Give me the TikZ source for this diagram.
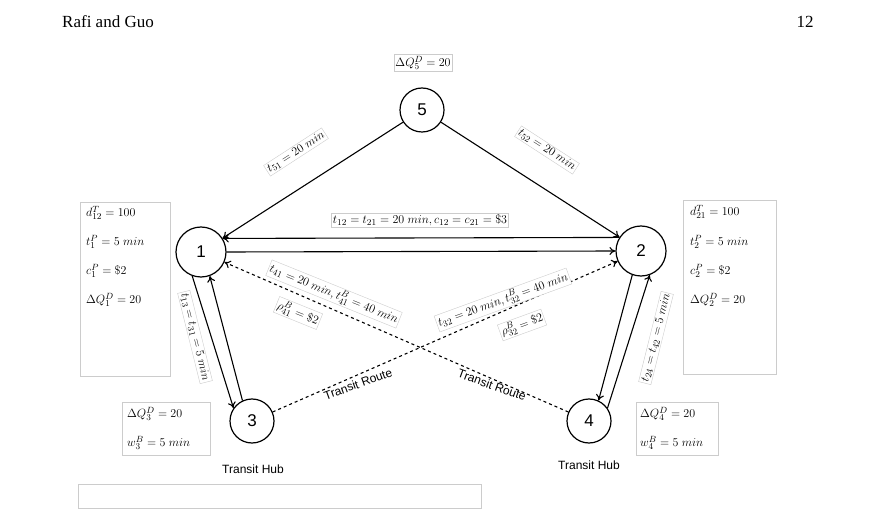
\documentclass[tikz,border=0pt]{standalone}
\usepackage{fontspec}
\usepackage{amsmath}
\setmainfont{Liberation Serif}
\setsansfont{Liberation Sans}
\usetikzlibrary{arrows.meta}
\begin{document}
\begin{tikzpicture}[x=1pt,y=-1pt,
  nd/.style={circle,draw,line width=1.2pt,minimum size=44pt,inner sep=0pt,font=\sffamily\fontsize{17}{20}\selectfont},
  ar/.style={-{To[length=6pt,width=8pt]},line width=1.1pt},
  da/.style={ar,dashed},
  lb/.style={draw=gray!40,fill=white,inner sep=1.5pt,font=\fontsize{13}{15}\selectfont},
  bx/.style={draw=gray!40},
  mt/.style={anchor=west,inner sep=0pt,font=\fontsize{13}{15}\selectfont},
  tx/.style={font=\sffamily\fontsize{12}{14}\selectfont}]
\useasboundingbox (0,0) rectangle (881,521);
\node[font=\fontsize{17}{20}\selectfont] (h1) at (108,22) {Rafi and Guo};
\node[font=\fontsize{17}{20}\selectfont] (h2) at (805,22) {12};
\node[nd] (n5) at (422,110) {5};
\node[nd,minimum size=50pt] (n1) at (201,252) {1};
\node[nd,minimum size=50pt] (n2) at (641,251) {2};
\node[nd] (n3) at (252,421) {3};
\node[nd] (n4) at (589,421) {4};
\draw[ar] (n5) -- (n1);
\draw[ar] (n5) -- (n2);
\draw[ar] (n2.148) -- (n1.32);
\draw[ar] (n1.0) -- (n2.180);
\draw[ar] (n1.250) -- (n3.145);
\draw[ar] (n3.115) -- (n1.290);
\draw[ar] (n2.250) -- (n4.65);
\draw[ar] (n4.35) -- (n2.290);
\draw[da] (n4) -- (n1);
\draw[da] (n3) -- (n2);
\node[lb,rotate=33] (l51) at (296,152) {$t_{51}=20\ min$};
\node[lb,rotate=-33] (l52) at (547,150) {$t_{52}=20\ min$};
\node[lb] (l12) at (420,220) {$t_{12}=t_{21}=20\ min, c_{12}=c_{21}=\$3$};
\node[lb,rotate=-76] (l13) at (195,337) {$t_{13}=t_{31}=5\ min$};
\node[lb,rotate=76] (l24) at (656,338) {$t_{24}=t_{42}=5\ min$};
\node[lb,rotate=-22] (l41) at (334,294) {$t_{41}=20\ min,t^B_{41}=40\ min$};
\node[lb,rotate=-22] (r41) at (298,313) {$\rho^B_{41}=\$2$};
\node[lb,rotate=20] (l32) at (503,300) {$t_{32}=20\ min,t^B_{32}=40\ min$};
\node[lb,rotate=20] (r32) at (522,325) {$\rho^B_{32}=\$2$};
\node[tx,rotate=20] (tr1) at (358,384) {Transit Route};
\node[tx,rotate=-20] (tr2) at (492,385) {Transit Route};
\node[tx] (th3) at (253,469) {Transit Hub};
\node[tx] (th4) at (589,465) {Transit Hub};
\node[lb] (q5) at (423,63) {$\Delta Q^D_5=20$};
\draw[bx] (80,202) rectangle (170,376);
\node[mt] (a1) at (86,213) {$d^T_{12}=100$};
\node[mt] (a2) at (86,242) {$t^P_1=5\ min$};
\node[mt] (a3) at (86,271) {$c^P_1=\$2$};
\node[mt] (a4) at (86,300) {$\Delta Q^D_1=20$};
\draw[bx] (683,200) rectangle (776,374);
\node[mt] (b1) at (690,212) {$d^T_{21}=100$};
\node[mt] (b2) at (690,242) {$t^P_2=5\ min$};
\node[mt] (b3) at (690,271) {$c^P_2=\$2$};
\node[mt] (b4) at (690,300) {$\Delta Q^D_2=20$};
\draw[bx] (122,402) rectangle (210,455);
\node[mt] (c1) at (127,414) {$\Delta Q^D_3=20$};
\node[mt] (c2) at (127,443) {$w^B_3=5\ min$};
\draw[bx] (636,402) rectangle (718,455);
\node[mt] (d1) at (640,414) {$\Delta Q^D_4=20$};
\node[mt] (d2) at (640,443) {$w^B_4=5\ min$};
\draw[bx] (78,484) rectangle (481,508);
\end{tikzpicture}
\end{document}
